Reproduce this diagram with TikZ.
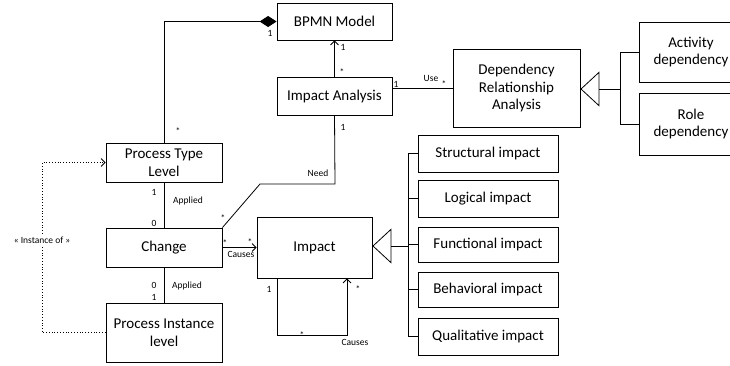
\documentclass[tikz,border=0pt]{standalone}
\usepackage{fontspec}
\setmainfont{Carlito}
\usetikzlibrary{arrows.meta}
\begin{document}
\begin{tikzpicture}[x=1pt,y=-1pt,
  box/.style={draw,line width=0.8pt,inner sep=1pt,align=center,font=\fontsize{15}{17.5}\selectfont},
  lbl/.style={font=\fontsize{9.5}{10}\selectfont,inner sep=0pt},
  conn/.style={line width=0.8pt},
  openarr/.style={conn,-{Straight Barb[length=4pt,width=8pt,line width=0.8pt]}},
  gen/.style={conn,-{Triangle[open,length=19pt,width=35pt,line width=0.8pt]}},
  comp/.style={conn,-{Diamond[length=17pt,width=11pt]}},
  inst/.style={line width=0.8pt,dotted,-{Straight Barb[length=4pt,width=8pt,line width=0.8pt]}}
]
\useasboundingbox (0,0) rectangle (730,365);
\clip (0,0) rectangle (730,365);
% boxes
\node[box,minimum width=115,minimum height=37] (bpmn) at (334.5,21.5) {BPMN Model};
\node[box,minimum width=115,minimum height=38] (ia) at (334.5,96) {Impact Analysis};
\node[box,minimum width=127,minimum height=78] (dra) at (516.5,88) {Dependency\\Relationship\\Analysis};
\node[box,minimum width=104,minimum height=60] (act) at (691,52) {Activity\\dependency};
\node[box,minimum width=104,minimum height=62] (role) at (691,124) {Role\\dependency};
\node[box,minimum width=116,minimum height=39] (ptl) at (164,162.5) {Process Type\\Level};
\node[box,minimum width=116,minimum height=39] (chg) at (164,247.5) {Change};
\node[box,minimum width=116,minimum height=59] (pil) at (164,332.5) {Process Instance\\level};
\node[box,minimum width=115,minimum height=61] (imp) at (314.5,247.5) {Impact};
\node[box,minimum width=140,minimum height=37] (s1) at (488,153.5) {Structural impact};
\node[box,minimum width=140,minimum height=37] (s2) at (488,198.5) {Logical impact};
\node[box,minimum width=140,minimum height=35] (s3) at (488,244.5) {Functional impact};
\node[box,minimum width=140,minimum height=35] (s4) at (488,289.5) {Behavioral impact};
\node[box,minimum width=140,minimum height=37] (s5) at (488,336.5) {Qualitative impact};
% coordinates
\coordinate (busI) at (408,246);
\coordinate (busD) at (620,89);
\coordinate (needA) at (335,184);
\coordinate (needB) at (260,184);
\coordinate (instA) at (42,332.5);
\coordinate (instB) at (42,162.5);
\coordinate (loopL) at (277,335);
\coordinate (loopR) at (347,335);
% composition
\draw[comp] (ptl.north) |- (bpmn.west);
% impact analysis -> bpmn
\draw[openarr] (ia.north) -- (bpmn.south);
% use
\draw[conn] (ia.east |- dra.west) -- (dra.west);
% need
\draw[conn] (ia.south) -- (needA) -- (needB) -- (chg.north east);
% applied
\draw[conn] (ptl.south) -- (chg.north);
\draw[conn] (chg.south) -- (pil.north);
% causes
\draw[openarr] (chg.east) -- (imp.west);
\draw[openarr] (loopL |- imp.south) -- (loopL) -- (loopR) -- (loopR |- imp.south);
% instance of
\draw[inst] (pil.west |- instA) -- (instA) -- (instB) -- (ptl.west);
\node[lbl,fill=white,inner sep=2pt] (instlbl) at (42,240) {« Instance of »};
% generalization impact
\draw[gen] (busI) -- (imp.east |- busI);
\draw[conn] (s1.west) -- (s1.west -| busI) -- (s5.west -| busI) -- (s5.west);
\draw[conn] (s2.west) -- (s2.west -| busI);
\draw[conn] (s3.west) -- (s3.west -| busI);
\draw[conn] (s4.west) -- (s4.west -| busI);
% generalization dependency
\draw[gen] (busD) -- (dra.east |- busD);
\draw[conn] (act.west) -- (act.west -| busD) -- (role.west -| busD) -- (role.west);
% labels
\node[lbl] (l1) at (270,33) {1};
\node[lbl] (l2) at (343,47) {1};
\node[lbl] (l3) at (342,72) {*};
\node[lbl] (l4) at (396,84) {1};
\node[lbl] (l5) at (343,127) {1};
\node[lbl] (l6) at (431,78) {Use};
\node[lbl] (l7) at (444,84) {*};
\node[lbl] (l8) at (178,131) {*};
\node[lbl] (l9) at (318,173) {Need};
\node[lbl] (l10) at (154,192) {1};
\node[lbl] (l11) at (188,201) {Applied};
\node[lbl] (l12) at (154,223) {0};
\node[lbl] (l13) at (223,218) {*};
\node[lbl] (l14) at (225,243) {*};
\node[lbl] (l15) at (250,242) {*};
\node[lbl] (l16) at (241,254) {Causes};
\node[lbl] (l17) at (154,285) {0};
\node[lbl] (l18) at (187,286) {Applied};
\node[lbl] (l19) at (154,297) {1};
\node[lbl] (l20) at (269,289) {1};
\node[lbl] (l21) at (358,289) {*};
\node[lbl] (l22) at (302,335) {*};
\node[lbl] (l23) at (355,342) {Causes};
\end{tikzpicture}
\end{document}
